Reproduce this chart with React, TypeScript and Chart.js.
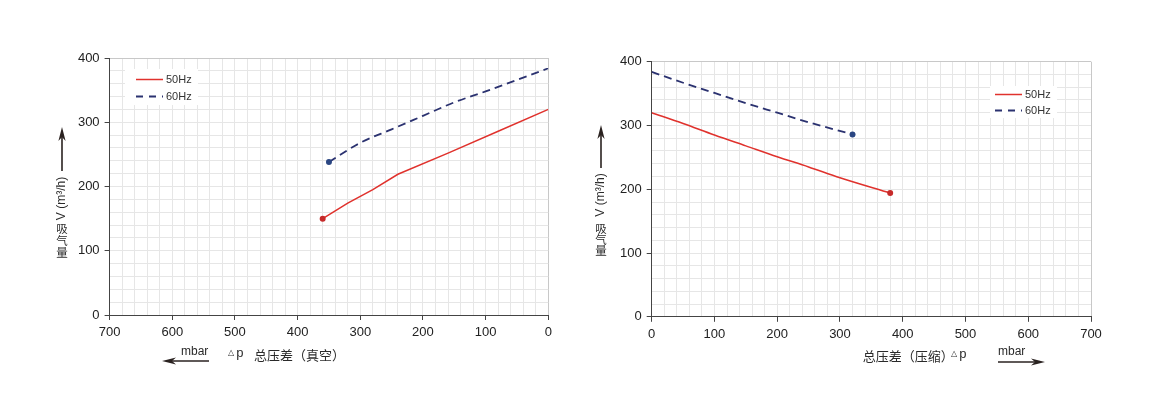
import React, { useEffect, useRef } from 'react';
import { Chart, registerables } from 'chart.js';
Chart.register(...registerables);

// ---- data (mbar, m³/h) ----
const leftP50 = [360, 320, 280, 240, 160, 80, 0];
const leftQ50 = [150, 174, 195, 219, 252, 286, 320];
const leftP60 = [350, 300, 250, 200, 150, 100, 50, 0];
const leftQ60 = [238, 268, 289, 310, 331, 348, 366, 384];
const rightP50 = [0, 50, 100, 150, 200, 250, 300, 380];
const rightQ50 = [320, 303, 285, 268, 251, 235, 218, 194];
const rightP60 = [0, 50, 100, 150, 200, 250, 320];
const rightQ60 = [384, 367, 351, 335, 320, 305, 286];
const legendLabels = ['50Hz', '60Hz'];
const leftXTitle = '总压差（真空）';
const rightXTitle = '总压差（压缩）';
const unitLabel = 'mbar';
const yTitleLatin = 'V (m³/h)';
const yTitleCJK = ['吸', '气', '量'];

const RED = '#e0322d';
const NAVY = '#2b3270';
const CW = 580;
const CH = 420;

function pts(xs: number[], ys: number[]) {
  return xs.map((x, i) => ({ x, y: ys[i] }));
}

function arrow(ctx: CanvasRenderingContext2D, x1: number, y1: number, x2: number, y2: number) {
  const ang = Math.atan2(y2 - y1, x2 - x1);
  const L = 14, W = 3.6;
  ctx.save();
  ctx.strokeStyle = '#2a2220';
  ctx.fillStyle = '#2a2220';
  ctx.lineWidth = 1.6;
  ctx.beginPath();
  ctx.moveTo(x1, y1);
  ctx.lineTo(x2 - Math.cos(ang) * 8, y2 - Math.sin(ang) * 8);
  ctx.stroke();
  ctx.translate(x2, y2);
  ctx.rotate(ang);
  ctx.beginPath();
  ctx.moveTo(0, 0);
  ctx.lineTo(-L, -W);
  ctx.lineTo(-L + 4, 0);
  ctx.lineTo(-L, W);
  ctx.closePath();
  ctx.fill();
  ctx.restore();
}

type Deco = {
  legendBox: [number, number, number, number];
  legX: number;
  legY: [number, number];
  yArrowX: number;
  yArrowTip: number;
  yArrowTail: number;
  yLatinY: number;
  yCJK: number[];
  side: 'left' | 'right';
  titleX: number;
  titleY: number;
  deltaX: number;
  mbarX: number;
  mbarY: number;
  arrowFrom: number;
  arrowTo: number;
  arrowY: number;
};

function decoPlugin(d: Deco) {
  return {
    id: 'deco',
    afterDraw(chart: any) {
      const ctx: CanvasRenderingContext2D = chart.ctx;
      ctx.save();
      const [bx, by, bw, bh] = d.legendBox;
      ctx.fillStyle = '#ffffff';
      ctx.fillRect(bx, by, bw, bh);
      ctx.lineWidth = 1.5;
      ctx.strokeStyle = RED;
      ctx.beginPath();
      ctx.moveTo(d.legX, d.legY[0]);
      ctx.lineTo(d.legX + 27, d.legY[0]);
      ctx.stroke();
      ctx.strokeStyle = NAVY;
      ctx.lineWidth = 1.8;
      ctx.setLineDash([7, 6]);
      ctx.beginPath();
      ctx.moveTo(d.legX, d.legY[1]);
      ctx.lineTo(d.legX + 27, d.legY[1]);
      ctx.stroke();
      ctx.setLineDash([]);
      ctx.fillStyle = '#333';
      ctx.font = '11px "Liberation Sans", Arial, sans-serif';
      ctx.textAlign = 'left';
      ctx.textBaseline = 'middle';
      ctx.fillText(legendLabels[0], d.legX + 30, d.legY[0]);
      ctx.fillText(legendLabels[1], d.legX + 30, d.legY[1]);

      arrow(ctx, d.yArrowX, d.yArrowTail, d.yArrowX, d.yArrowTip);
      ctx.fillStyle = '#2a2a2a';
      ctx.save();
      ctx.translate(d.yArrowX - 0.5, d.yLatinY);
      ctx.rotate(-Math.PI / 2);
      ctx.font = '12px "Liberation Sans", Arial, sans-serif';
      ctx.textAlign = 'center';
      ctx.textBaseline = 'middle';
      ctx.fillText(yTitleLatin, 0, 0);
      ctx.restore();
      ctx.font = '11.5px "Noto Sans CJK SC", sans-serif';
      ctx.textAlign = 'center';
      ctx.textBaseline = 'middle';
      yTitleCJK.forEach((c, i) => ctx.fillText(c, d.yArrowX, d.yCJK[i]));

      ctx.textAlign = 'left';
      ctx.textBaseline = 'middle';
      const cjk = '13px "Noto Sans CJK SC", sans-serif';
      const drawDelta = (x: number) => {
        ctx.font = '8px "DejaVu Sans", sans-serif';
        ctx.fillText('△', x, d.titleY - 2);
        ctx.font = '13px "Liberation Mono", monospace';
        ctx.fillText('p', x + 8, d.titleY - 1);
      };
      if (d.side === 'left') {
        drawDelta(d.deltaX);
        ctx.font = cjk;
        ctx.fillText(leftXTitle, d.titleX, d.titleY);
      } else {
        ctx.font = cjk;
        ctx.fillText(rightXTitle, d.titleX, d.titleY);
        drawDelta(d.deltaX);
      }
      ctx.font = '12px "Liberation Sans", Arial, sans-serif';
      ctx.fillText(unitLabel, d.mbarX, d.mbarY);
      arrow(ctx, d.arrowFrom, d.arrowY, d.arrowTo, d.arrowY);
      ctx.restore();
    },
  };
}

function Panel({ side }: { side: 'left' | 'right' }) {
  const ref = useRef<HTMLCanvasElement | null>(null);
  useEffect(() => {
    if (!ref.current) return;
    const isLeft = side === 'left';
    const chartLeft = isLeft ? 109.6 : 71.7;
    const chartRight = isLeft ? 548.3 : 511;
    const chartTop = isLeft ? 58 : 61.7;
    const chartBottom = isLeft ? 315 : 316.8;
    const xAxisH = 30;
    const font = { family: '"Liberation Sans", Arial, sans-serif', size: 13 };
    const edgeX = isLeft ? 0 : 700;
    const d50 = isLeft ? pts(leftP50, leftQ50) : pts(rightP50, rightQ50);
    const d60 = isLeft ? pts(leftP60, leftQ60) : pts(rightP60, rightQ60);
    const end50 = isLeft ? 0 : d50.length - 1;
    const end60 = isLeft ? 0 : d60.length - 1;

    const deco: Deco = isLeft
      ? {
          legendBox: [125, 69, 73, 36],
          legX: 136,
          legY: [79.5, 96.5],
          yArrowX: 62,
          yArrowTip: 127,
          yArrowTail: 171,
          yLatinY: 198.5,
          yCJK: [229, 241, 253],
          side: 'left',
          titleX: 254,
          titleY: 355,
          deltaX: 228,
          mbarX: 181,
          mbarY: 352,
          arrowFrom: 209,
          arrowTo: 162,
          arrowY: 361,
        }
      : {
          legendBox: [410, 86, 67, 32],
          legX: 415,
          legY: [94.5, 110.5],
          yArrowX: 21,
          yArrowTip: 125,
          yArrowTail: 168,
          yLatinY: 195,
          yCJK: [229, 240, 251],
          side: 'right',
          titleX: 282.7,
          titleY: 356,
          deltaX: 371,
          mbarX: 418,
          mbarY: 352,
          arrowFrom: 418,
          arrowTo: 465,
          arrowY: 362,
        };

    const chart = new Chart(ref.current, {
      type: 'line',
      data: {
        datasets: [
          {
            label: legendLabels[0],
            data: d50,
            borderColor: RED,
            borderWidth: 1.5,
            tension: 0,
            cubicInterpolationMode: isLeft ? 'default' : 'monotone',
            pointRadius: (c: any) => (c.dataIndex === end50 ? 3 : 0),
            pointBackgroundColor: '#c62a2a',
            pointBorderColor: '#c62a2a',
            pointBorderWidth: 0,
            fill: false,
          },
          {
            label: legendLabels[1],
            data: d60,
            borderColor: NAVY,
            borderWidth: 1.8,
            borderDash: [8, 5],
            cubicInterpolationMode: 'monotone',
            pointRadius: (c: any) => (c.dataIndex === end60 ? 3 : 0),
            pointBackgroundColor: '#2a4682',
            pointBorderColor: '#2a4682',
            pointBorderWidth: 0,
            fill: false,
          },
        ],
      },
      options: {
        responsive: false,
        animation: false,
        devicePixelRatio: 1,
        layout: {
          padding: {
            left: 0,
            right: CW - chartRight,
            top: chartTop,
            bottom: CH - chartBottom - xAxisH,
          },
        },
        plugins: { legend: { display: false }, tooltip: { enabled: false } },
        scales: {
          x: {
            type: 'linear',
            min: 0,
            max: 700,
            reverse: isLeft,
            afterFit: (s: any) => {
              s.height = xAxisH;
            },
            ticks: {
              stepSize: 20,
              autoSkip: false,
              maxRotation: 0,
              padding: 5,
              color: '#222',
              font,
              callback: (v: any) => (Number(v) % 100 === 0 ? String(v) : ''),
            },
            grid: {
              color: (c: any) => (c.tick && c.tick.value === edgeX ? '#c8c8c8' : '#e6e6e6'),
              lineWidth: 1,
              tickLength: 5,
              tickColor: (c: any) =>
                c.tick && c.tick.value % 100 === 0 ? '#444' : 'rgba(0,0,0,0)',
            },
            border: { color: '#444', width: 1 },
          },
          y: {
            type: 'linear',
            min: 0,
            max: 400,
            afterFit: (s: any) => {
              s.width = chartLeft;
            },
            ticks: {
              stepSize: 20,
              autoSkip: false,
              padding: 5,
              color: '#222',
              font,
              callback: (v: any) => (Number(v) % 100 === 0 ? String(v) : ''),
            },
            grid: {
              color: (c: any) => (c.tick && c.tick.value === 400 ? '#c8c8c8' : '#e6e6e6'),
              lineWidth: 1,
              tickLength: 5,
              tickColor: (c: any) =>
                c.tick && c.tick.value % 100 === 0 ? '#444' : 'rgba(0,0,0,0)',
            },
            border: { color: '#444', width: 1 },
          },
        },
      } as any,
      plugins: [decoPlugin(deco)],
    });
    return () => chart.destroy();
  }, [side]);
  return (
    <canvas
      ref={ref}
      width={CW}
      height={CH}
      style={{
        position: 'absolute',
        top: 0,
        left: side === 'left' ? 0 : CW,
        width: CW,
        height: CH,
      }}
    />
  );
}

export default function App() {
  return (
    <div
      style={{
        position: 'fixed',
        left: 0,
        top: 0,
        width: 1160,
        height: 420,
        background: '#ffffff',
        overflow: 'hidden',
      }}
    >
      <Panel side="left" />
      <Panel side="right" />
    </div>
  );
}
